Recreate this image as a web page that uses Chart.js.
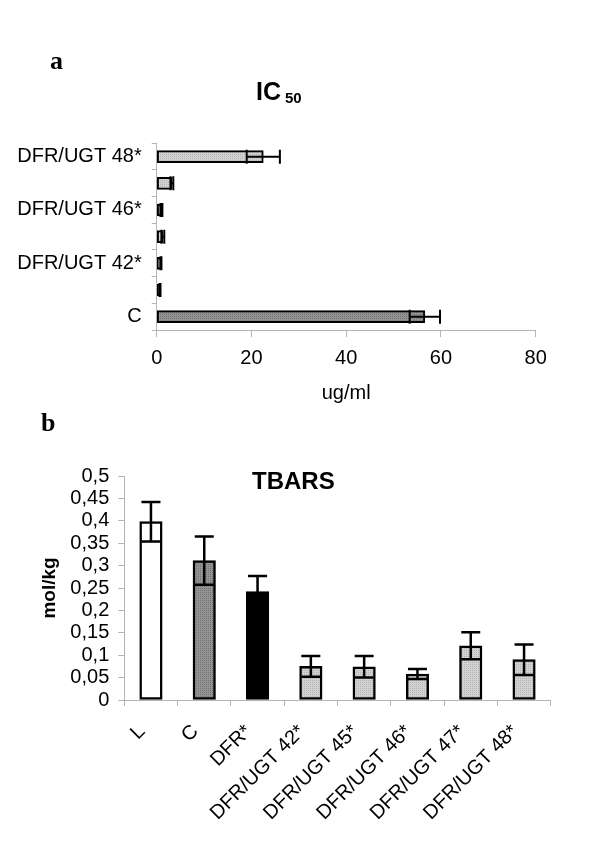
<!DOCTYPE html>
<html>
<head>
<meta charset="utf-8">
<script src="https://cdn.jsdelivr.net/npm/chart.js@4.4.1/dist/chart.umd.min.js"></script>
<style>
html, body { margin: 0; padding: 0; background: #fff; }
#page { position: relative; width: 600px; height: 847px; overflow: hidden; font-family: 'Liberation Sans', Arial, sans-serif; }
canvas { position: absolute; left: 0; }
.txt { position: absolute; line-height: 1; white-space: nowrap; color: #000; }
.panel { font-family: 'Liberation Serif', 'Times New Roman', serif; font-weight: bold; font-size: 26px; }
.ttl { font-weight: bold; }
</style>
</head>
<body>
<div id="page">
  <canvas id="icChart" width="600" height="420" style="top:0"></canvas>
  <canvas id="tbarsChart" width="600" height="427" style="top:420px"></canvas>
  <div class="txt panel" style="left:50px;top:48px">a</div>
  <div class="txt ttl" style="left:256px;top:79px;font-size:25px">IC</div>
  <div class="txt ttl" style="left:285px;top:90px;font-size:15px">50</div>
  <div class="txt panel" style="left:41px;top:410px">b</div>
  <div class="txt ttl" style="left:252px;top:469px;font-size:24px">TBARS</div>
</div>
<script>
// panel a: IC50 (ug/ml)
var icLabels = ['C', 'DFR*', 'DFR/UGT 42*', 'DFR/UGT 45*', 'DFR/UGT 46*', 'DFR/UGT 47*', 'DFR/UGT 48*'];
var icValues = [56.6, 0.7, 0.9, 1.3, 1.0, 3.2, 22.5];
var icErrors = [3.2, 0.1, 0.1, 0.3, 0.2, 0.3, 3.5];

// panel b: TBARS (mol/kg)
var tbarsLabels = ['L', 'C', 'DFR*', 'DFR/UGT 42*', 'DFR/UGT 45*', 'DFR/UGT 46*', 'DFR/UGT 47*', 'DFR/UGT 48*'];
var tbarsValues = [0.398, 0.311, 0.242, 0.075, 0.074, 0.058, 0.121, 0.090];
var tbarsErrors = [0.044, 0.054, 0.035, 0.023, 0.024, 0.011, 0.030, 0.034];

var axisGray = '#b4b4b4';
var FONT = 20;

Chart.defaults.font.family = "'Liberation Sans', Arial, sans-serif";
Chart.defaults.color = '#000';

// small dotted fill like the old excel patterns
function dotted(base, dot) {
    var c = document.createElement('canvas');
    c.width = 2; c.height = 2;
    var g = c.getContext('2d');
    g.fillStyle = base;
    g.fillRect(0, 0, 2, 2);
    g.fillStyle = dot;
    g.fillRect(0, 0, 1, 1);
    return g.createPattern(c, 'repeat');
}

var midFill = dotted('#939393', '#747474');
var lightFill = dotted('#d2d2d2', '#b4b4b4');

function fillFor(label) {
    if (label === 'L') return '#ffffff';
    if (label === 'C') return midFill;
    if (label === 'DFR*') return '#000000';
    return lightFill;
}

var errorBars = {
    id: 'errorBars',
    afterDatasetsDraw: function (chart, args, opts) {
        var ctx = chart.ctx;
        var meta = chart.getDatasetMeta(0);
        var horizontal = chart.options.indexAxis === 'y';
        var scale = horizontal ? chart.scales.x : chart.scales.y;
        var values = chart.data.datasets[0].data;
        var h = opts.cap / 2;
        ctx.save();
        ctx.strokeStyle = '#000';
        ctx.lineWidth = opts.lineWidth;
        ctx.lineCap = 'butt';
        meta.data.forEach(function (bar, i) {
            var lo = scale.getPixelForValue(values[i] - opts.errors[i]);
            var hi = scale.getPixelForValue(values[i] + opts.errors[i]);
            ctx.beginPath();
            if (horizontal) {
                ctx.moveTo(lo, bar.y); ctx.lineTo(hi, bar.y);
                ctx.moveTo(lo, bar.y - h); ctx.lineTo(lo, bar.y + h);
                ctx.moveTo(hi, bar.y - h); ctx.lineTo(hi, bar.y + h);
            } else {
                ctx.moveTo(bar.x, lo); ctx.lineTo(bar.x, hi);
                ctx.moveTo(bar.x - h, lo); ctx.lineTo(bar.x + h, lo);
                ctx.moveTo(bar.x - h, hi); ctx.lineTo(bar.x + h, hi);
            }
            ctx.stroke();
        });
        ctx.restore();
    }
};

// --- a: IC50 ---
new Chart(document.getElementById('icChart'), {
    type: 'bar',
    data: {
        labels: icLabels,
        datasets: [{
            data: icValues,
            backgroundColor: icLabels.map(fillFor),
            borderColor: '#000',
            borderWidth: 2,
            borderSkipped: false,
            barThickness: 12
        }]
    },
    options: {
        indexAxis: 'y',
        responsive: false,
        animation: false,
        layout: { padding: { top: 143.3, right: 64.3, bottom: 10, left: 0 } },
        plugins: {
            legend: { display: false },
            tooltip: { enabled: false },
            errorBars: { errors: icErrors, cap: 14, lineWidth: 2 }
        },
        scales: {
            x: {
                min: 0,
                max: 80,
                ticks: { stepSize: 20, padding: 9, font: { size: FONT } },
                grid: { drawOnChartArea: false, tickLength: 7, color: axisGray },
                border: { color: axisGray },
                title: { display: true, text: 'ug/ml', font: { size: FONT }, padding: { top: 0, bottom: 5 } },
                afterFit: function (s) { s.height = 80; }
            },
            y: {
                reverse: true,
                ticks: {
                    autoSkip: false,
                    padding: 10,
                    font: { size: FONT },
                    callback: function (v, i) { return i % 2 === 0 ? this.getLabelForValue(v) : ''; }
                },
                grid: { drawOnChartArea: false, tickLength: 5, color: axisGray },
                border: { color: axisGray },
                afterFit: function (s) { s.width = 156.7; }
            }
        }
    },
    plugins: [errorBars]
});

// --- b: TBARS ---
new Chart(document.getElementById('tbarsChart'), {
    type: 'bar',
    data: {
        labels: tbarsLabels,
        datasets: [{
            data: tbarsValues,
            backgroundColor: tbarsLabels.map(fillFor),
            borderColor: '#000',
            borderWidth: 2.5,
            borderSkipped: false,
            barThickness: 22.5
        }]
    },
    options: {
        responsive: false,
        animation: false,
        layout: { padding: { top: 56, right: 49.3, bottom: 0, left: 0 } },
        plugins: {
            legend: { display: false },
            tooltip: { enabled: false },
            errorBars: { errors: tbarsErrors, cap: 19, lineWidth: 2.5 }
        },
        scales: {
            x: {
                ticks: {
                    autoSkip: false,
                    minRotation: 45,
                    maxRotation: 45,
                    padding: 14,
                    labelOffset: -9,
                    font: { size: FONT }
                },
                grid: { drawOnChartArea: false, tickLength: 6, color: axisGray },
                border: { color: axisGray },
                afterFit: function (s) { s.height = 147; }
            },
            y: {
                min: 0,
                max: 0.5,
                ticks: {
                    autoSkip: false,
                    stepSize: 0.05,
                    padding: 9,
                    font: { size: FONT },
                    callback: function (v) { return String(+v.toFixed(2)).replace('.', ','); }
                },
                grid: { drawOnChartArea: false, tickLength: 6, color: axisGray },
                border: { color: axisGray },
                title: { display: true, text: 'mol/kg', font: { size: 19, weight: 'bold' }, padding: { top: 38.6, bottom: 0 } },
                afterFit: function (s) { s.width = 124.3; }
            }
        }
    },
    plugins: [errorBars]
});
</script>
</body>
</html>
